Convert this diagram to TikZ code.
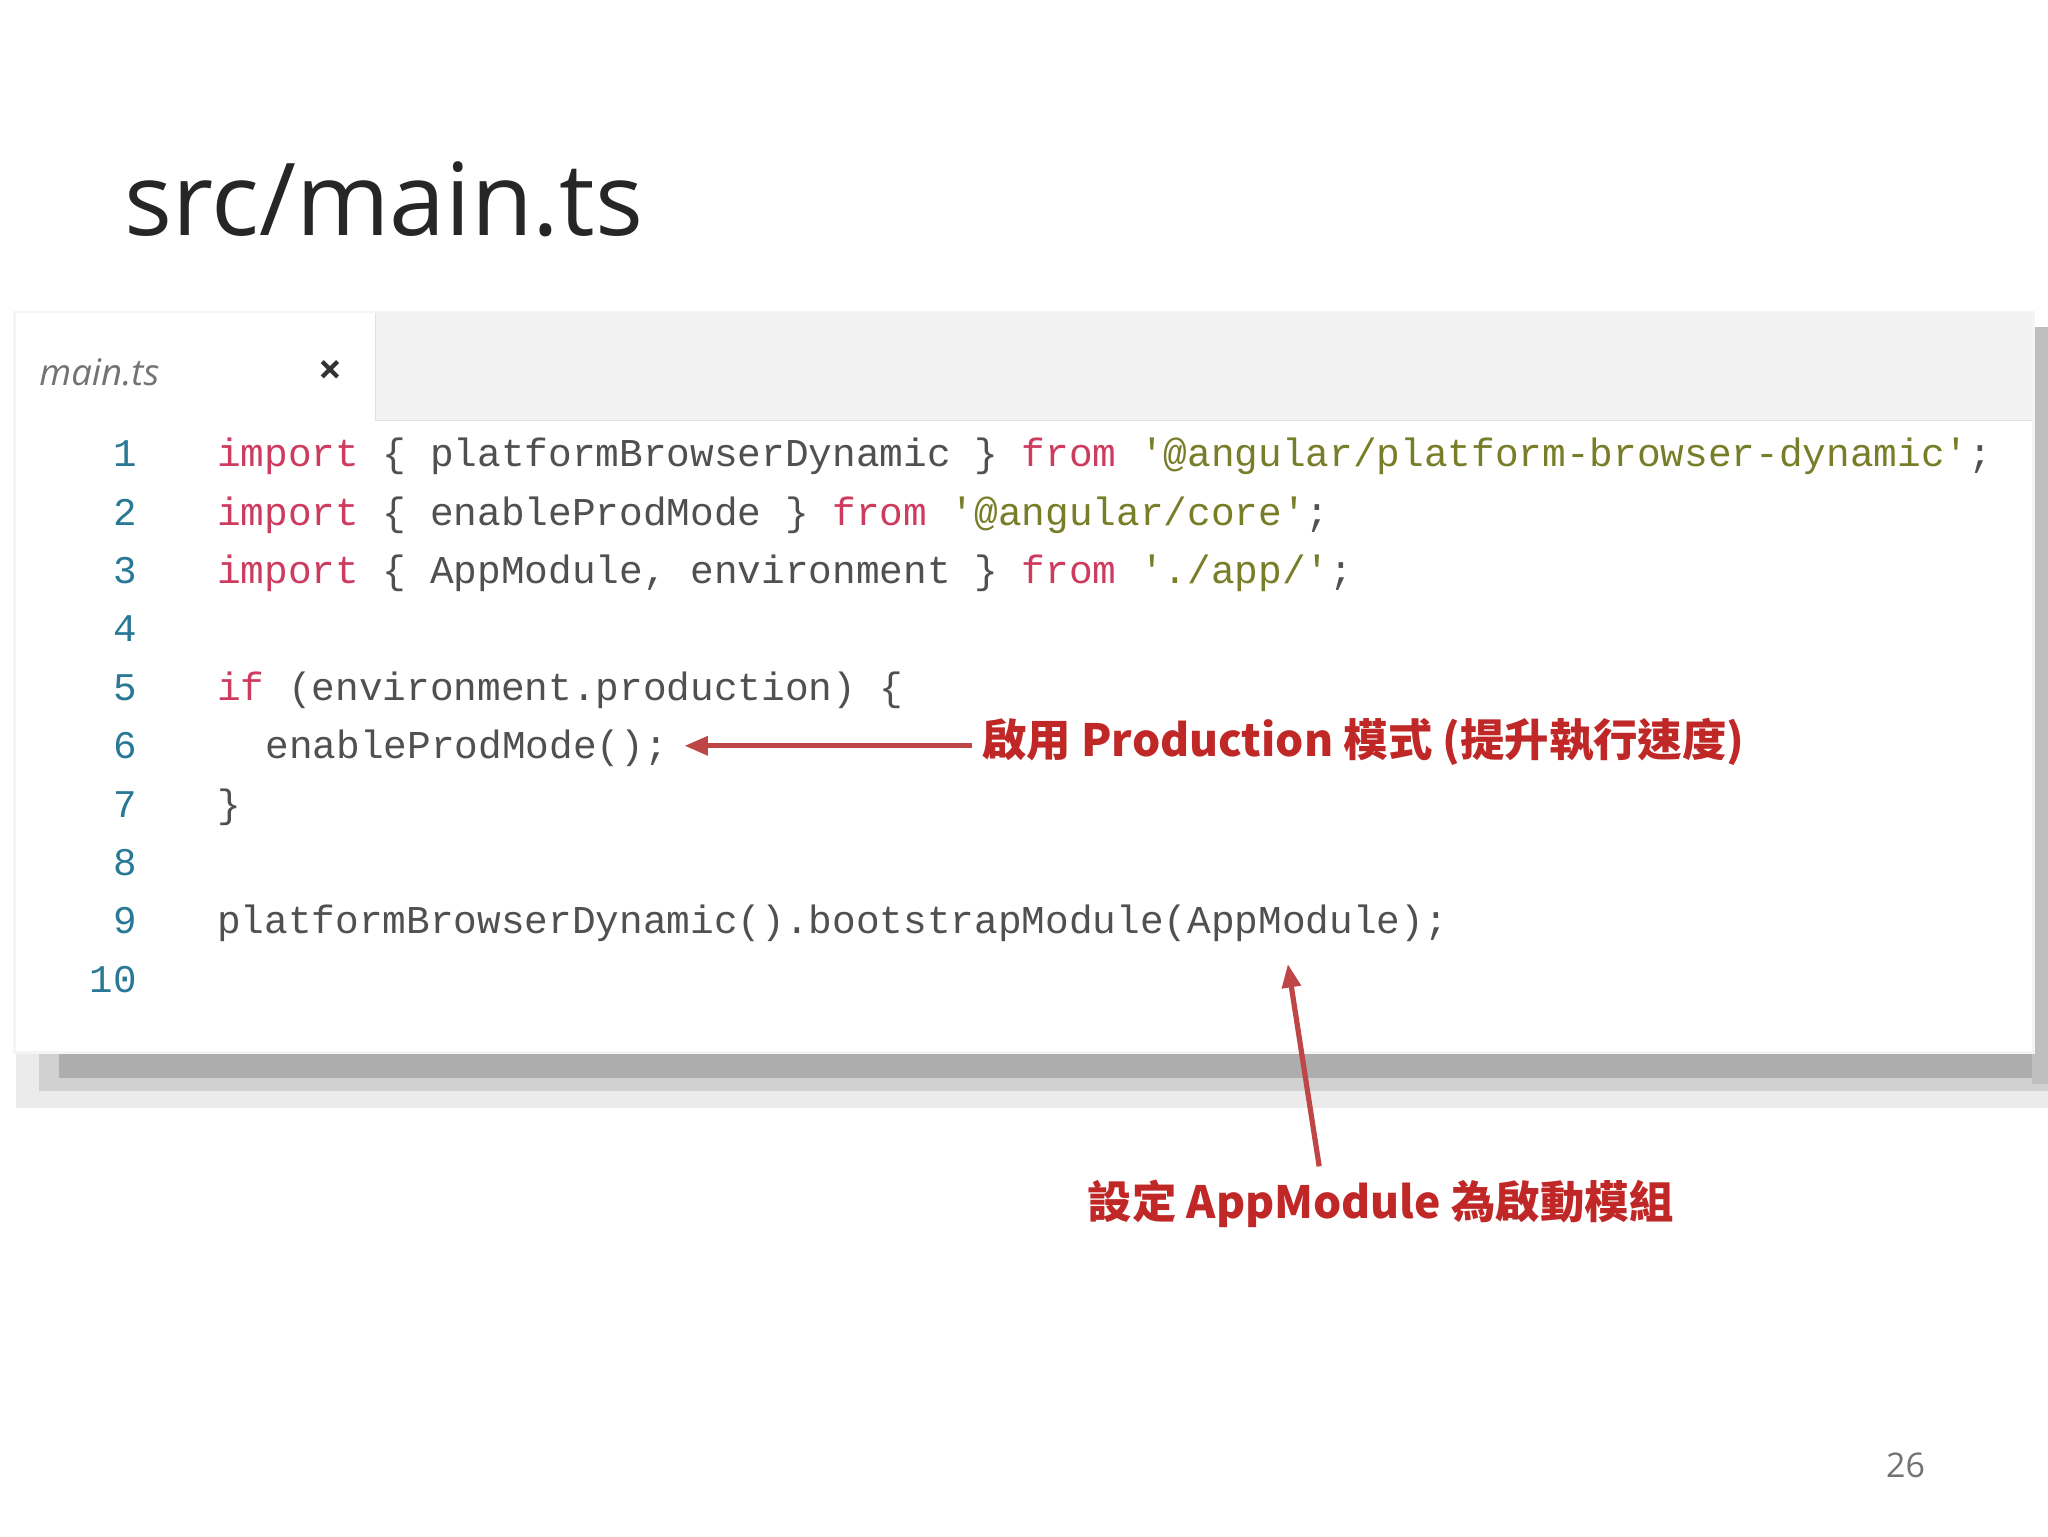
\documentclass[tikz,border=0pt]{standalone}
\usepackage{fontspec}
\setmainfont{Open Sans}
\setmonofont{Liberation Mono}
\newfontfamily\cjk{Noto Sans CJK TC}
\usetikzlibrary{arrows.meta}
\definecolor{kw}{RGB}{205,60,95}
\definecolor{st}{RGB}{120,125,40}
\definecolor{id}{RGB}{80,80,80}
\definecolor{ln}{RGB}{40,120,150}
\definecolor{ann}{RGB}{192,40,40}
\definecolor{arr}{RGB}{190,70,70}
\tikzset{
 code/.style={anchor=base west,inner sep=0,font=\fontsize{30.2}{30}\ttfamily,text=id},
 lnum/.style={anchor=base east,inner sep=0,font=\fontsize{30}{30}\ttfamily,text=ln},
 note/.style={inner sep=0,font=\fontsize{34}{34}\cjk\bfseries,text=ann},
 redarrow/.style={draw=arr,line width=4pt,-{Triangle[length=18pt,width=14pt]}}
}
\newcommand{\K}[1]{\textcolor{kw}{#1}}
\newcommand{\Sx}[1]{\textcolor{st}{#1}}
\begin{document}
\begin{tikzpicture}[x=1pt,y=-1pt]
\useasboundingbox (0,0) rectangle (1568,1176);
\fill[white] (0,0) rectangle (1568,1176);
% shadow
\fill[black!8] (12,805) rectangle (1568,848);
\fill[black!18] (30,805) rectangle (1568,835);
\fill[black!32] (45,805) rectangle (1568,825);
\fill[black!25] (1556,250) rectangle (1568,830);
% window
\fill[black!4] (10,238) rectangle (1558,807);
\fill[white] (12,240) rectangle (1556,805);
\fill[black!5] (287,240) rectangle (1556,322);
\draw[black!12] (287,240) -- (287,322) -- (1556,322);
\node[anchor=base west,inner sep=0,font=\fontsize{77}{77}\selectfont,text=black!85] (title) at (95,180) {src/main.ts};
\node[anchor=base west,inner sep=0,font=\fontsize{28}{28}\itshape,text=black!55] (tab) at (30,295) {main.ts};
\node[inner sep=0,font=\fontsize{32}{32}\bfseries,text=black!80] (close) at (253,285) {×};
\foreach \i/\y in {1/357,2/402,3/447,4/491,5/536,6/581,7/626,8/670,9/715} \node[lnum] (n\i) at (105,\y) {\i};
\node[lnum] (n10) at (105,760) {10};
\node[code] (l1) at (166,357) {\K{import} \{ platformBrowserDynamic \} \K{from} \Sx{'@angular/platform-browser-dynamic'};};
\node[code] (l2) at (166,402) {\K{import} \{ enableProdMode \} \K{from} \Sx{'@angular/core'};};
\node[code] (l3) at (166,447) {\K{import} \{ AppModule, environment \} \K{from} \Sx{'./app/'};};
\node[code] (l5) at (166,536) {\K{if} (environment.production) \{};
\node[code] (l6) at (203,581) {enableProdMode();};
\node[code] (l7) at (166,626) {\}};
\node[code] (l9) at (166,715) {platformBrowserDynamic().bootstrapModule(AppModule);};
% annotations
\node[note,anchor=west] (a1) at (752,568) {啟用 Production 模式 (提升執行速度)};
\node[note] (a2) at (1057,922) {設定 AppModule 為啟動模組};
\coordinate (t1) at (524,571);
\coordinate (t2) at (986,738);
\coordinate (s2) at (1010,893);
\draw[redarrow] (a1.west) ++(-8,3) -- (t1);
\draw[redarrow] (s2) -- (t2);
\node[inner sep=0,font=\fontsize{26}{26}\selectfont,text=black!55] (pg) at (1459,1122) {26};
\end{tikzpicture}
\end{document}
